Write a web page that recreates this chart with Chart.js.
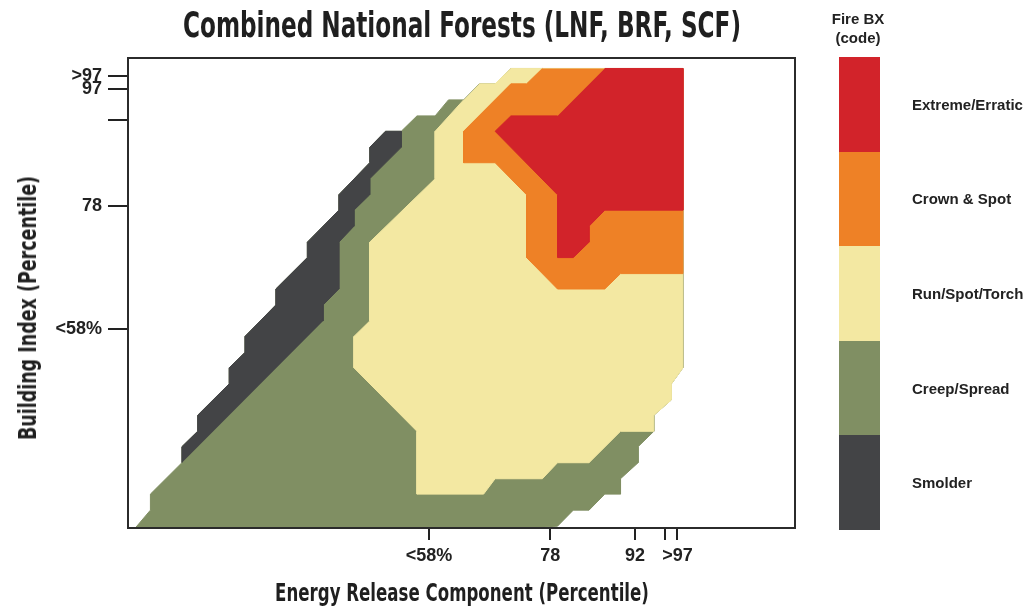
<!DOCTYPE html>
<html>
<head>
<meta charset="utf-8">
<title>Combined National Forests (LNF, BRF, SCF)</title>
<script src="https://cdn.jsdelivr.net/npm/chart.js@4.4.1/dist/chart.umd.min.js"></script>
<style>
    html, body { margin: 0; padding: 0; background: #fff; }
    .wrap { position: relative; width: 1031px; height: 613px; overflow: hidden; }
    #fireChart { position: absolute; left: 0; top: 0; }
    .narrow-text {
        position: absolute; white-space: nowrap; text-align: center;
        font-family: 'DejaVu Sans Condensed', 'DejaVu Sans', sans-serif;
        font-stretch: condensed; font-weight: bold; color: #1f1f1f;
        transform-origin: center center;
    }
    .chart-title {
        left: 61.5px; top: 7.7px; width: 800px; height: 35px;
        font-size: 35px; line-height: 35px; transform: scaleX(0.735);
    }
    .x-title {
        left: 61.5px; top: 581.4px; width: 800px; height: 24px;
        font-size: 24px; line-height: 24px; transform: scaleX(0.77);
    }
    .y-title {
        left: -221.6px; top: 296px; width: 500px; height: 24px;
        font-size: 24px; line-height: 24px; transform: rotate(-90deg) scaleX(0.81);
    }
    .legend-head {
        position: absolute; left: 808px; top: 9px; width: 100px;
        text-align: center; font: bold 15px 'Liberation Sans', Arial, sans-serif;
        line-height: 19px; color: #222;
    }
    #fireLegend { position: absolute; left: 839px; top: 57px; }
    .legend-item { display: flex; align-items: center; height: 94.6px; }
    .legend-color { width: 41px; height: 100%; }
    .legend-label {
        margin-left: 32px; font: bold 15px 'Liberation Sans', Arial, sans-serif;
        color: #222; white-space: nowrap;
    }
</style>
</head>
<body>
<div class="wrap">
    <canvas id="fireChart" width="1031" height="613"></canvas>
    <div class="narrow-text chart-title">Combined National Forests (LNF, BRF, SCF)</div>
    <div class="narrow-text x-title">Energy Release Component (Percentile)</div>
    <div class="narrow-text y-title">Building Index (Percentile)</div>
    <div class="legend-head">Fire BX<br>(code)</div>
    <div id="fireLegend"></div>
</div>
<script>
// ==========================================
// Fire behaviour classes (legend order, top to bottom)
// ==========================================

const fireClasses = ['Extreme/Erratic', 'Crown & Spot', 'Run/Spot/Torch', 'Creep/Spread', 'Smolder'];
const fireColors = ['#D2232A', '#EE8126', '#F3E8A2', '#808F63', '#434446'];

// Axis ticks (ERC along x, BI along y)
const xTickValues = [58, 78, 92, 97, 99];
const xTickLabels = ['<58%', '78', '92', '', '>97'];
const yTickValues = [58, 78, 92, 97, 99];
const yTickLabels = ['<58%', '78', '', '97', '>97'];

// Zone outlines as [ERC, BI] corners.
// Each zone covers the ones drawn above it.
const creepSpreadZone = [
    [9.5, 25.7], [12.0, 28.6], [12.0, 31.2], [17.2, 36.3], [17.2, 38.9], [19.8, 41.4],
    [19.8, 44.0], [25.0, 49.1], [25.0, 51.7], [27.6, 54.2], [27.6, 56.8], [32.7, 61.9],
    [32.7, 64.5], [37.9, 69.6], [37.9, 72.1], [43.1, 77.3], [43.1, 79.8], [48.2, 85.0],
    [48.2, 87.5], [50.8, 90.1], [53.4, 90.1], [56.0, 92.6], [59.0, 92.6], [61.2, 95.2],
    [63.7, 95.2], [66.3, 97.8], [68.9, 97.8], [71.5, 100.3], [99.9, 100.3], [99.9, 51.7],
    [98.0, 49.1], [98.0, 46.5], [95.1, 44.0], [95.1, 41.4], [92.5, 38.9], [92.5, 36.3],
    [89.6, 33.7], [89.6, 31.2], [87.0, 31.2], [84.4, 28.6], [81.8, 28.6], [79.2, 26.0],
    [74.1, 25.7]
];

const smolderZone = [
    [17.2, 36.3], [17.2, 38.9], [19.8, 41.4], [19.8, 44.0], [25.0, 49.1], [25.0, 51.7],
    [27.6, 54.2], [27.6, 56.8], [32.7, 61.9], [32.7, 64.5], [37.9, 69.6], [37.9, 72.1],
    [43.1, 77.3], [43.1, 79.8], [48.2, 85.0], [48.2, 87.5], [50.8, 90.1], [53.4, 90.1],
    [53.4, 87.5], [48.2, 82.4], [48.2, 79.8], [45.6, 77.3], [45.6, 74.7], [43.1, 72.1],
    [43.1, 64.5], [40.5, 61.9], [40.5, 59.3]
];

const runSpotTorchZone = [
    [63.7, 95.2], [59.0, 90.1], [59.0, 82.4], [48.2, 72.1], [48.2, 59.3], [45.6, 56.8],
    [45.6, 51.7], [56.0, 41.4], [56.0, 31.2], [67.0, 31.2], [68.9, 33.7], [76.7, 33.7],
    [79.2, 36.3], [84.4, 36.3], [89.6, 41.4], [95.1, 41.4], [95.1, 44.0], [98.0, 46.5],
    [98.0, 49.1], [99.9, 51.7], [99.9, 100.3], [71.5, 100.3], [68.9, 97.8], [66.3, 97.8]
];

const crownSpotZone = [
    [76.7, 100.3], [74.1, 97.8], [71.5, 97.8], [63.7, 90.1], [63.7, 85.0], [68.9, 85.0],
    [74.1, 79.8], [74.1, 69.6], [79.2, 64.5], [87.0, 64.5], [89.6, 67.0], [99.9, 67.0],
    [99.9, 100.3]
];

const extremeZone = [
    [87.0, 100.3], [99.9, 100.3], [99.9, 77.3], [87.0, 77.3], [84.4, 74.7], [84.4, 72.1],
    [81.8, 69.6], [79.2, 69.6], [79.2, 79.8], [68.9, 90.1], [71.5, 92.6], [79.2, 92.6]
];

const zoneShapes = [extremeZone, crownSpotZone, runSpotTorchZone, creepSpreadZone, smolderZone];
// draw order: smolder sits above creep/spread, the hotter zones above both
const zoneOrder = [0, 1, 2, 4, 3];

// ==========================================
// Chart
// ==========================================

const REGULAR = "'Liberation Sans', Arial, sans-serif";
const INK = '#222222';

// Plain frame round the plot area
const plotFramePlugin = {
    id: 'plotFrame',
    afterDatasetsDraw(chart) {
        const a = chart.chartArea;
        const ctx = chart.ctx;
        ctx.save();
        ctx.strokeStyle = '#2b2b2b';
        ctx.lineWidth = 2;
        ctx.strokeRect(a.left, a.top, a.right - a.left, a.bottom - a.top);
        ctx.restore();
    }
};

function initFireChart() {
    const ctx = document.getElementById('fireChart');

    const datasets = zoneShapes.map((shape, i) => ({
        label: fireClasses[i],
        data: shape.map(p => ({ x: p[0], y: p[1] })),
        backgroundColor: fireColors[i],
        borderColor: fireColors[i],
        borderWidth: 1,
        pointRadius: 0,
        pointHoverRadius: 0,
        tension: 0,
        fill: 'shape',
        order: zoneOrder[i]
    }));

    new Chart(ctx, {
        type: 'line',
        data: { datasets: datasets },
        options: {
            responsive: false,
            animation: false,
            devicePixelRatio: 1,
            events: [],
            layout: { padding: { top: 58, left: 0, right: 236, bottom: 0 } },
            plugins: {
                legend: { display: false },
                tooltip: { enabled: false },
                title: { display: false }
            },
            scales: {
                x: {
                    type: 'linear',
                    min: 8.3,
                    max: 118.4,
                    afterBuildTicks: s => { s.ticks = xTickValues.map(v => ({ value: v })); },
                    afterFit: s => { s.height = 85; },
                    border: { display: false },
                    grid: { drawOnChartArea: false, tickLength: 12, color: INK, lineWidth: 2 },
                    ticks: {
                        autoSkip: false,
                        maxRotation: 0,
                        padding: 5,
                        color: INK,
                        font: { family: REGULAR, size: 18, weight: 'bold' },
                        callback: (v, i) => xTickLabels[i]
                    }
                },
                y: {
                    type: 'linear',
                    min: 25.7,
                    max: 102,
                    afterBuildTicks: s => { s.ticks = yTickValues.map(v => ({ value: v })); },
                    afterFit: s => { s.width = 128; },
                    border: { display: false },
                    grid: { drawOnChartArea: false, tickLength: 20, color: INK, lineWidth: 2 },
                    ticks: {
                        autoSkip: false,
                        padding: 6,
                        color: INK,
                        font: { family: REGULAR, size: 18, weight: 'bold' },
                        callback: (v, i) => yTickLabels[i]
                    }
                }
            }
        },
        plugins: [plotFramePlugin]
    });
}

// Colour-bar legend on the right
function createFireLegend() {
    const legend = document.getElementById('fireLegend');
    legend.innerHTML = '';
    fireClasses.forEach((name, i) => {
        const item = document.createElement('div');
        item.className = 'legend-item';
        item.innerHTML = `
            <span class="legend-color" style="background-color: ${fireColors[i]}"></span>
            <span class="legend-label"></span>
        `;
        item.querySelector('.legend-label').textContent = name;
        legend.appendChild(item);
    });
}

createFireLegend();
initFireChart();
</script>
</body>
</html>
